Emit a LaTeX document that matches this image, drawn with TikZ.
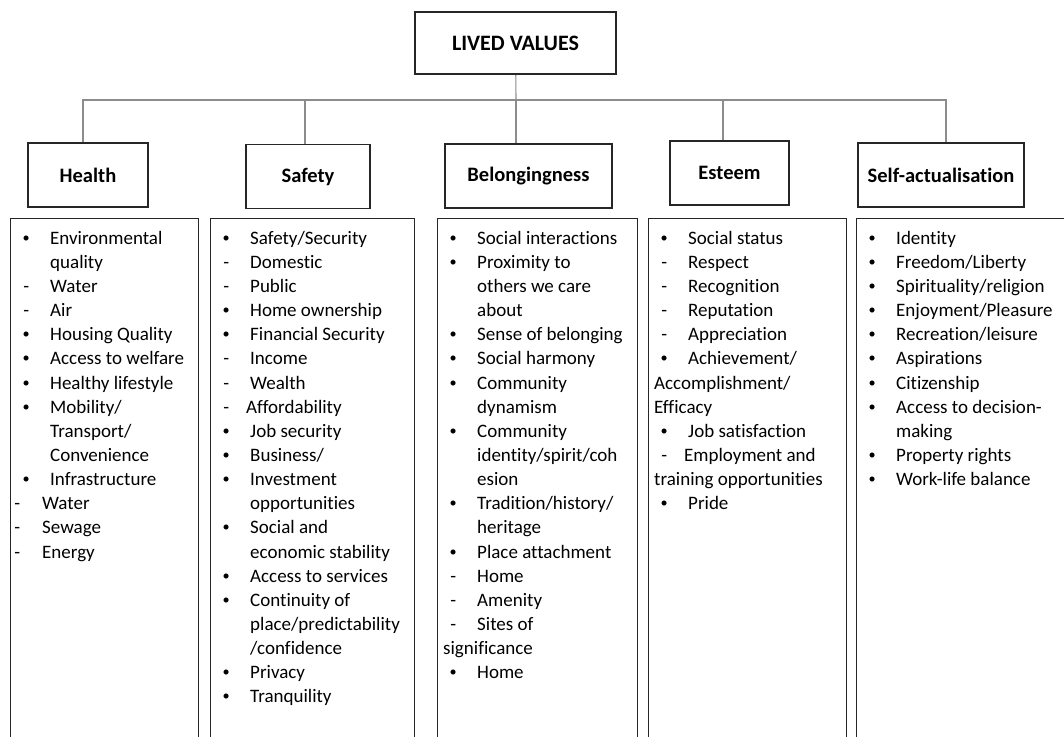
\documentclass[tikz,border=0pt]{standalone}
\usepackage{fontspec}
\usepackage{graphicx}
\setmainfont{Carlito}[Ligatures=CommonOff]
\usetikzlibrary{positioning, calc}

% list line starters: bullet, dash, tight dash, narrow dash, continuation
\newcommand{\smalldot}{\raisebox{2pt}{\scalebox{0.75}{\textbullet}}}
\newcommand{\bul}{\strut\makebox[34pt][l]{\makebox[20pt]{\smalldot}}}
\newcommand{\dsh}{\strut\makebox[34pt][l]{\makebox[20pt]{-}}}
\newcommand{\dsht}{\strut\makebox[30pt][l]{\makebox[20pt]{-}}}
\newcommand{\dshn}{\strut\makebox[26pt][l]{\makebox[2pt]{-}}}
\newcommand{\cont}{\strut\hspace*{34pt}}

\begin{document}
\begin{tikzpicture}[
    x=1pt, y=-1pt,
    every node/.style={font=\fontsize{19}{24.15}\selectfont},
    top/.style={rectangle, draw=black!85, line width=1.6pt, minimum width=201pt, minimum height=62pt, font=\fontsize{22}{26}\selectfont\bfseries},
    head/.style={rectangle, draw=black!85, line width=1.6pt, minimum height=64pt, font=\fontsize{20.5}{24}\selectfont\bfseries},
    listbox/.style={rectangle, draw=black!85, line width=1.4pt, anchor=north west, minimum height=540pt},
    listtext/.style={inner sep=0pt, align=left},
    link/.style={draw=black!45, line width=1.1pt}
]
\clip (0,0) rectangle (1064,736);

% root
\node[top] (lived) at (515.5,43) {LIVED VALUES};
\coordinate (bus) at (516,100);

% five value headings
\node[head, minimum width=120pt] (health) at (88,175) {Health};
\node[head, minimum width=124pt] (safety) at (308,176.5) {Safety};
\node[head, minimum width=167pt] (belong) at (528.5,176) {Belongingness};
\node[head, minimum width=119pt] (esteem) at (729.5,173) {Esteem};
\node[head, minimum width=166pt] (selfact) at (941,175) {Self-actualisation};

% tree lines
\draw[link] (lived) -- (bus);
\draw[link] ([xshift=-5pt]health.north) |- (bus);
\draw[link] ([xshift=-3pt]safety.north) |- (bus);
\draw[link] ([xshift=-12.5pt]belong.north) |- (bus);
\draw[link] ([xshift=-6.5pt]esteem.north) |- (bus);
\draw[link] ([xshift=5pt]selfact.north) |- (bus);

% list boxes
\node[listbox, minimum width=188pt] (healthlist) at (10,218) {};
\node[listbox, minimum width=204pt] (safetylist) at (210,218) {};
\node[listbox, minimum width=200pt] (belonglist) at (437,218) {};
\node[listbox, minimum width=198pt] (esteemlist) at (648,218) {};
\node[listbox, minimum width=230pt] (selfactlist) at (856,218) {};

% list contents
\node[listtext, below right=9pt and 6pt of healthlist.north west] (healthtext) {%
\bul Environmental\\ \cont quality\\ \dsh Water\\ \dsh Air\\
\bul Housing Quality\\ \bul Access to welfare\\ \bul Healthy lifestyle\\
\bul Mobility/\\ \cont Transport/\\ \cont Convenience\\
\bul Infrastructure\\ \dshn Water\\ \dshn Sewage\\ \dshn Energy};

\node[listtext, below right=9pt and 6pt of safetylist.north west] (safetytext) {%
\bul Safety/Security\\ \dsh Domestic\\ \dsh Public\\
\bul Home ownership\\ \bul Financial Security\\ \dsh Income\\ \dsh Wealth\\
\dsht Affordability\\ \bul Job security\\ \bul Business/\\
\bul Investment\\ \cont opportunities\\ \bul Social and\\ \cont economic stability\\
\bul Access to services\\ \bul Continuity of\\ \cont place/predictability\\ \cont /confidence\\
\bul Privacy\\ \bul Tranquility};

\node[listtext, below right=9pt and 6pt of belonglist.north west] (belongtext) {%
\bul Social interactions\\ \bul Proximity to\\ \cont others we care\\ \cont about\\
\bul Sense of belonging\\ \bul Social harmony\\ \bul Community\\ \cont dynamism\\
\bul Community\\ \cont identity/spirit/coh\\ \cont esion\\
\bul Tradition/history/\\ \cont heritage\\ \bul Place attachment\\
\dsh Home\\ \dsh Amenity\\ \dsh Sites of\\ \strut significance\\ \bul Home};

\node[listtext, below right=9pt and 6pt of esteemlist.north west] (esteemtext) {%
\bul Social status\\ \dsh Respect\\ \dsh Recognition\\ \dsh Reputation\\ \dsh Appreciation\\
\bul Achievement/\\ \strut Accomplishment/\\ \strut Efficacy\\
\bul Job satisfaction\\ \dsht Employment and\\ \strut training opportunities\\ \bul Pride};

\node[listtext, below right=9pt and 6pt of selfactlist.north west] (selfacttext) {%
\bul Identity\\ \bul Freedom/Liberty\\ \bul Spirituality/religion\\ \bul Enjoyment/Pleasure\\
\bul Recreation/leisure\\ \bul Aspirations\\ \bul Citizenship\\
\bul Access to decision-\\ \cont making\\ \bul Property rights\\ \bul Work-life balance};

\end{tikzpicture}
\end{document}
